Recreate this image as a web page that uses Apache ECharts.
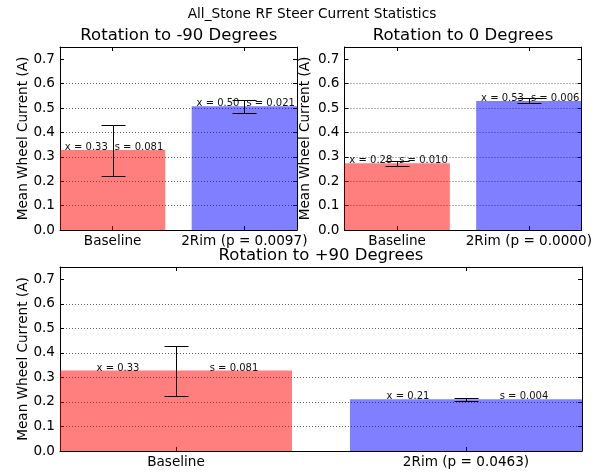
<!DOCTYPE html>
<html><head><meta charset="utf-8">
<script src="https://cdn.jsdelivr.net/npm/echarts@6/dist/echarts.min.js"></script>
<style>html,body{margin:0;padding:0;background:#fff}#c{width:601px;height:472px}</style>
</head><body><div id="c"></div>
<script>
// ---- data ----
const suptitle = "All_Stone RF Steer Current Statistics";
const panelTitles = ["Rotation to -90 Degrees", "Rotation to 0 Degrees", "Rotation to +90 Degrees"];
const categories = [
  ["Baseline", "2Rim (p = 0.0097)"],
  ["Baseline", "2Rim (p = 0.0000)"],
  ["Baseline", "2Rim (p = 0.0463)"]
];
const means   = [[0.328, 0.507], [0.274, 0.529], [0.328, 0.211]];
const errLow  = [[0.222, 0.480], [0.263, 0.519], [0.224, 0.205]];
const errHigh = [[0.430, 0.534], [0.284, 0.539], [0.428, 0.217]];
const meanText = [["0.33", "0.50"], ["0.28", "0.53"], ["0.33", "0.21"]];
const sdText   = [["0.081", "0.021"], ["0.010", "0.006"], ["0.081", "0.004"]];
const yTicks = [0, 0.1, 0.2, 0.3, 0.4, 0.5, 0.6, 0.7];
const xTicks = [0, 1];
const yLabel = "Mean Wheel Current (A)";

// ---- styling / layout ----
const FONT = '"DejaVu Sans", sans-serif';
const barColors = ["rgba(255,0,0,0.5)", "rgba(0,0,255,0.5)"];
const grids = [
  {left: 60, top: 47, width: 237, height: 183},
  {left: 344.5, top: 47, width: 237, height: 183},
  {left: 60, top: 267, width: 522, height: 184}
];
const yLabelX = [23.5, 305, 23.5];
const titlePos = [[178.8, 35.7], [463, 35.7], [321, 256]];

const xAxes = [], yAxes = [], series = [];
grids.forEach((g, i) => {
  const tickStyle = {color: '#000', width: 1};
  ['bottom', 'top'].forEach(pos => {
    xAxes.push({
      gridIndex: i, type: 'value', min: -0.4, max: 1.4, position: pos,
      axisLine: {show: true, onZero: false, lineStyle: tickStyle},
      axisTick: {show: true, inside: true, length: 4, customValues: xTicks, lineStyle: tickStyle},
      axisLabel: {show: pos === 'bottom', customValues: xTicks, margin: 4,
        formatter: v => categories[i][Math.round(v)],
        fontSize: 13.6, color: '#000', fontFamily: FONT},
      splitLine: {show: false}
    });
  });
  ['left', 'right'].forEach(pos => {
    const isLeft = pos === 'left';
    yAxes.push({
      gridIndex: i, type: 'value', min: 0, max: 0.75, interval: 0.1, position: pos,
      axisLine: {show: true, onZero: false, lineStyle: tickStyle},
      axisTick: {show: true, inside: true, length: 4, customValues: yTicks, lineStyle: tickStyle},
      axisLabel: {show: isLeft, customValues: yTicks, margin: 5,
        formatter: v => v.toFixed(1),
        fontSize: 13.6, color: '#000', fontFamily: FONT},
      splitLine: {show: isLeft, showMinLine: false, showMaxLine: false,
        lineStyle: {type: [1, 2], color: '#666', width: 1}}
    });
  });
  const data = means[i].map((m, k) => [xTicks[k], m, errLow[i][k], errHigh[i][k]]);
  series.push({
    type: 'custom', xAxisIndex: 2 * i, yAxisIndex: 2 * i, data: data, z: 5,
    renderItem: (params, api) => {
      const k = params.dataIndex;
      const x = api.value(0), m = api.value(1), lo = api.value(2), hi = api.value(3);
      const p0 = api.coord([x - 0.4, m]);
      const p1 = api.coord([x + 0.4, 0]);
      const children = [];
      children.push({type: 'rect', shape: {x: p0[0], y: p0[1], width: p1[0] - p0[0], height: p1[1] - p0[1]},
        style: {fill: barColors[k]}});
      const t1 = api.coord([x - 0.2, m]);
      const t2 = api.coord([x + 0.2, m]);
      const tStyle = {fill: '#111', font: '10px ' + FONT, align: 'center', verticalAlign: 'middle'};
      children.push({type: 'text', style: Object.assign({text: 'x = ' + meanText[i][k], x: t1[0], y: t1[1] - 2.5}, tStyle), z2: 2});
      children.push({type: 'text', style: Object.assign({text: 's = ' + sdText[i][k], x: t2[0], y: t2[1] - 2.5}, tStyle), z2: 2});
      const a = api.coord([x, lo]), b = api.coord([x, hi]);
      const cx = Math.round(a[0]) + 0.5;
      const ly = Math.round(a[1]) + 0.5, hy = Math.round(b[1]) + 0.5;
      const ls = {stroke: '#000', lineWidth: 1};
      children.push({type: 'line', shape: {x1: cx, y1: ly, x2: cx, y2: hy}, style: ls, z2: 3});
      children.push({type: 'line', shape: {x1: cx - 12, y1: ly, x2: cx + 12, y2: ly}, style: ls, z2: 3});
      children.push({type: 'line', shape: {x1: cx - 12, y1: hy, x2: cx + 12, y2: hy}, style: ls, z2: 3});
      return {type: 'group', children: children};
    }
  });
});

const graphics = [{type: 'text', x: 312, y: 14,
  style: {text: suptitle, font: '13.7px ' + FONT, fill: '#000', align: 'center', verticalAlign: 'middle'}}];
panelTitles.forEach((t, i) => graphics.push({type: 'text', x: titlePos[i][0], y: titlePos[i][1],
  style: {text: t, font: '16.5px ' + FONT, fill: '#000', align: 'center', verticalAlign: 'middle'}}));
grids.forEach((g, i) => graphics.push({type: 'text', x: yLabelX[i], y: g.top + g.height / 2, rotation: Math.PI / 2,
  style: {text: yLabel, font: '13.6px ' + FONT, fill: '#000', align: 'center', verticalAlign: 'middle'}}));

const chart = echarts.init(document.getElementById('c'), null, {renderer: 'canvas'});
chart.setOption({
  animation: false,
  backgroundColor: '#fff',
  grid: grids,
  xAxis: xAxes,
  yAxis: yAxes,
  series: series,
  graphic: graphics
});
</script></body></html>
